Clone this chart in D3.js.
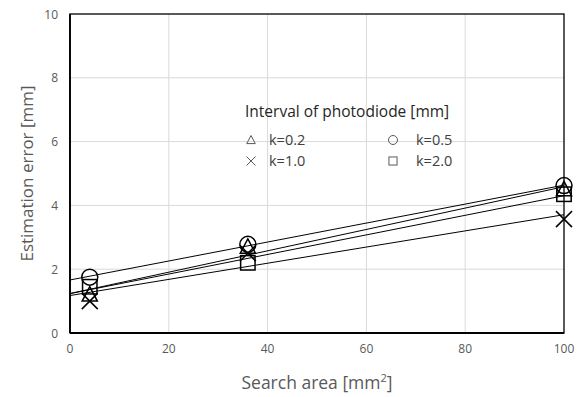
<!DOCTYPE html>
<html>
<head>
<meta charset="utf-8">
<script src="https://cdn.jsdelivr.net/npm/d3@7"></script>
<style>
  body { margin: 0; background: #fff; }
  svg { font-family: "Open Sans", "Noto Sans", sans-serif; }
</style>
</head>
<body>
<svg id="chart" width="579" height="397"></svg>
<script>
// search area values (mm^2)
const xValues = [4, 36, 100];
// series: interval of photodiode
const seriesNames = ["k=0.2", "k=0.5", "k=1.0", "k=2.0"];
const seriesSymbols = ["triangle", "circle", "cross", "square"];
const k02 = [1.2, 2.7, 4.5];
const k05 = [1.75, 2.78, 4.62];
const k10 = [1.0, 2.5, 3.57];
const k20 = [1.45, 2.2, 4.35];
const seriesValues = [k02, k05, k10, k20];

const xTicks = [0, 20, 40, 60, 80, 100];
const yTicks = [0, 2, 4, 6, 8, 10];

const margin = {left: 70, right: 15, top: 14, bottom: 64};
const width = 579, height = 397;
const svg = d3.select('#chart');

const x = d3.scaleLinear().domain([0, 100]).range([margin.left, width - margin.right]);
const y = d3.scaleLinear().domain([0, 10]).range([height - margin.bottom, margin.top]);

// gridlines
svg.append('g')
  .selectAll('line.hgrid')
  .data(yTicks.slice(1, -1))
  .enter().append('line')
  .attr('x1', x(0)).attr('x2', x(100))
  .attr('y1', d => y(d)).attr('y2', d => y(d))
  .attr('stroke', '#d9d9d9').attr('stroke-width', 1);
svg.append('g')
  .selectAll('line.vgrid')
  .data(xTicks.slice(1, -1))
  .enter().append('line')
  .attr('y1', y(0)).attr('y2', y(10))
  .attr('x1', d => x(d)).attr('x2', d => x(d))
  .attr('stroke', '#d9d9d9').attr('stroke-width', 1);

// plot frame
svg.append('rect')
  .attr('x', x(0)).attr('y', y(10))
  .attr('width', x(100) - x(0)).attr('height', y(0) - y(10))
  .attr('fill', 'none').attr('stroke', '#000').attr('stroke-width', 1.3);
svg.append('line')
  .attr('x1', x(0)).attr('x2', x(100)).attr('y1', y(0)).attr('y2', y(0))
  .attr('stroke', '#000').attr('stroke-width', 1.8);
svg.append('line')
  .attr('x1', x(0)).attr('x2', x(0)).attr('y1', y(0)).attr('y2', y(10))
  .attr('stroke', '#000').attr('stroke-width', 1.8);

// tick labels
svg.append('g').selectAll('text')
  .data(yTicks).enter().append('text')
  .attr('x', x(0) - 12).attr('y', d => y(d) + 4.5)
  .attr('text-anchor', 'end')
  .attr('font-size', 12).attr('fill', '#595959')
  .text(d => d);
svg.append('g').selectAll('text')
  .data(xTicks).enter().append('text')
  .attr('x', d => x(d)).attr('y', y(0) + 20)
  .attr('text-anchor', 'middle')
  .attr('font-size', 12).attr('fill', '#595959')
  .text(d => d);

// axis titles
svg.append('text')
  .attr('transform', `translate(33,${(y(0) + y(10)) / 2}) rotate(-90)`)
  .attr('text-anchor', 'middle')
  .attr('font-size', 17).attr('fill', '#595959')
  .text('Estimation error [mm]');
const xt = svg.append('text')
  .attr('x', (x(0) + x(100)) / 2).attr('y', 389)
  .attr('text-anchor', 'middle')
  .attr('font-size', 17.5).attr('fill', '#595959');
xt.append('tspan').text('Search area [mm');
xt.append('tspan').attr('font-size', 11).attr('dy', -7).text('2');
xt.append('tspan').attr('dy', 7).text(']');

// linear trend lines (least squares)
function fit(xs, ys) {
  const mx = d3.mean(xs), my = d3.mean(ys);
  let num = 0, den = 0;
  xs.forEach((v, i) => { num += (v - mx) * (ys[i] - my); den += (v - mx) * (v - mx); });
  const b = num / den;
  return {a: my - b * mx, b: b};
}
seriesValues.forEach(vals => {
  const f = fit(xValues, vals);
  svg.append('line')
    .attr('x1', x(0)).attr('y1', y(f.a))
    .attr('x2', x(100)).attr('y2', y(f.a + f.b * 100))
    .attr('stroke', '#000').attr('stroke-width', 1);
});

// marker drawing
function marker(g, type, cx, cy, s, color, sw) {
  if (type === 'circle') {
    g.append('circle').attr('cx', cx).attr('cy', cy).attr('r', s)
      .attr('fill', 'none').attr('stroke', color).attr('stroke-width', sw);
  } else if (type === 'square') {
    const h = s * 0.9;
    g.append('rect').attr('x', cx - h).attr('y', cy - h).attr('width', 2 * h).attr('height', 2 * h)
      .attr('fill', 'none').attr('stroke', color).attr('stroke-width', sw);
  } else if (type === 'triangle') {
    g.append('path')
      .attr('d', `M${cx},${cy - s}L${cx + s * 0.95},${cy + s * 0.8}L${cx - s * 0.95},${cy + s * 0.8}Z`)
      .attr('fill', 'none').attr('stroke', color).attr('stroke-width', sw);
  } else if (type === 'cross') {
    g.append('path')
      .attr('d', `M${cx - s},${cy - s}L${cx + s},${cy + s}M${cx + s},${cy - s}L${cx - s},${cy + s}`)
      .attr('fill', 'none').attr('stroke', color).attr('stroke-width', sw);
  }
}

const pts = svg.append('g');
seriesValues.forEach((vals, si) => {
  vals.forEach((v, i) => {
    marker(pts, seriesSymbols[si], x(xValues[i]), y(v), 8, '#000', 1.5);
  });
});

// legend
const leg = svg.append('g');
leg.append('text').attr('x', 245).attr('y', 117)
  .attr('font-size', 15.5).attr('fill', '#262626')
  .text('Interval of photodiode [mm]');
const legPos = [[251, 140], [393, 140], [251, 161], [393, 161]];
const legTextX = [269, 416, 269, 416];
seriesNames.forEach((name, i) => {
  marker(leg, seriesSymbols[i], legPos[i][0], legPos[i][1], 4.5, '#595959', 1);
  leg.append('text').attr('x', legTextX[i]).attr('y', legPos[i][1] + 5)
    .attr('font-size', 14.5).attr('fill', '#404040')
    .text(name);
});
</script>
</body>
</html>
